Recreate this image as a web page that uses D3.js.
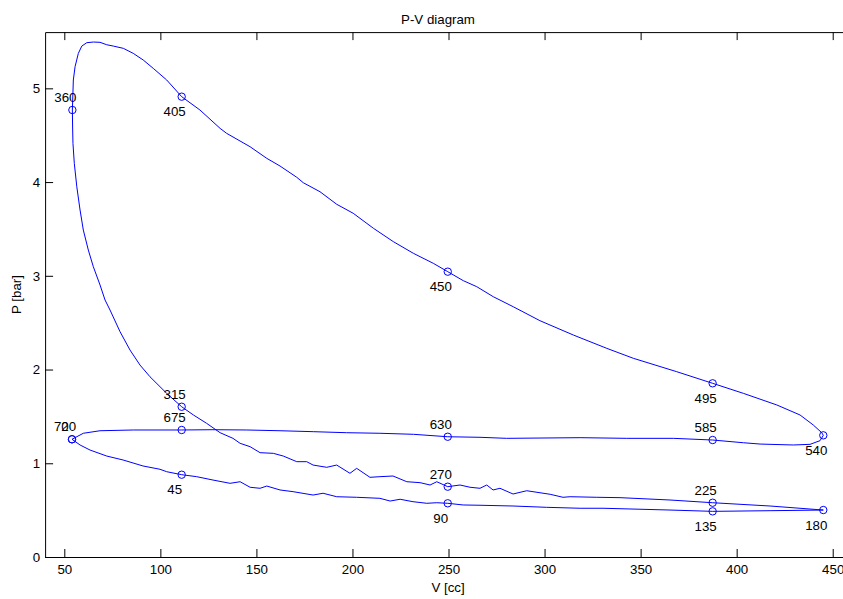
<!DOCTYPE html>
<html>
<head>
<meta charset="utf-8">
<script src="https://cdn.jsdelivr.net/npm/d3@7"></script>
<style>
  html, body { margin: 0; padding: 0; background: #fff; }
  svg { display: block; font-family: "Liberation Sans", Arial, Helvetica, sans-serif; }
</style>
</head>
<body>
<svg id="chart" width="843" height="599"></svg>
<script>
// Cylinder volume [cc] over the full 720° cycle: intake, compression, expansion, exhaust
const intakeV = [54.0, 58.2, 63.4, 72.1, 80.6, 91.0, 99.8, 103.3, 111.1, 118.9, 127.4, 136.3, 141.5, 146.7, 151.9, 155.4, 162.3, 169.1, 179.5, 184.7, 191.8, 202.2, 214.3, 219.6, 224.8, 231.5, 238.7, 243.9, 249.6, 257.6, 266.4, 283.6, 301.1, 318.5, 330.4, 365.3, 387.5, 417.4, 445.1];
const intakeP = [1.256, 1.195, 1.141, 1.077, 1.035, 0.971, 0.936, 0.910, 0.878, 0.857, 0.821, 0.786, 0.803, 0.744, 0.733, 0.757, 0.715, 0.697, 0.661, 0.680, 0.643, 0.637, 0.626, 0.597, 0.616, 0.590, 0.573, 0.579, 0.573, 0.555, 0.552, 0.544, 0.530, 0.520, 0.520, 0.501, 0.487, 0.494, 0.501];

const compressionV = [417.4, 387.5, 365.3, 339.3, 327.2, 313.3, 309.6, 302.9, 290.7, 283.6, 276.8, 273.2, 269.9, 266.4, 261.2, 256.0, 249.6, 243.9, 240.4, 235.2, 228.3, 221.1, 214.3, 209.1, 202.2, 198.7, 191.8, 186.6, 179.5, 176.2, 171.0, 164.0, 158.8, 151.9, 146.7, 141.5, 137.8, 131.1, 124.1, 117.2, 111.1, 103.3, 94.6, 89.4, 84.2, 79.0, 73.8, 71.2, 68.6, 65.1, 62.5, 59.9, 58.2, 56.5, 55.2, 54.5, 54.3, 54.2];
const compressionP = [0.544, 0.579, 0.608, 0.633, 0.637, 0.643, 0.637, 0.669, 0.707, 0.672, 0.733, 0.715, 0.768, 0.733, 0.744, 0.768, 0.750, 0.803, 0.768, 0.793, 0.803, 0.864, 0.857, 0.850, 0.946, 0.893, 0.981, 0.957, 0.981, 1.017, 1.017, 1.077, 1.106, 1.113, 1.177, 1.213, 1.266, 1.326, 1.426, 1.515, 1.603, 1.746, 1.923, 2.048, 2.208, 2.404, 2.635, 2.742, 2.902, 3.097, 3.275, 3.488, 3.702, 3.950, 4.200, 4.413, 4.609, 4.769];

const expansionV = [54.7, 55.6, 57.3, 59.1, 61.7, 65.1, 68.6, 72.1, 75.5, 80.7, 85.9, 91.1, 96.3, 103.3, 111.1, 120.6, 131.1, 134.5, 146.7, 155.4, 162.3, 171.0, 174.4, 183.1, 191.8, 200.4, 210.9, 221.3, 231.7, 242.1, 249.6, 257.7, 264.7, 273.3, 283.7, 297.6, 315.0, 332.4, 346.2, 368.8, 387.5, 403.5, 420.9, 433.0, 439.9, 444.3, 445.1];
const expansionP = [5.089, 5.231, 5.373, 5.451, 5.487, 5.494, 5.491, 5.465, 5.451, 5.427, 5.373, 5.302, 5.213, 5.089, 4.911, 4.769, 4.573, 4.520, 4.377, 4.253, 4.171, 4.051, 3.993, 3.897, 3.763, 3.667, 3.507, 3.364, 3.240, 3.133, 3.044, 2.948, 2.884, 2.777, 2.670, 2.521, 2.368, 2.226, 2.120, 1.977, 1.853, 1.746, 1.622, 1.515, 1.408, 1.326, 1.298];

const exhaustV = [443.4, 438.2, 429.5, 412.2, 403.5, 387.5, 367.0, 342.8, 318.5, 280.3, 266.4, 249.6, 231.7, 214.3, 197.0, 179.6, 162.3, 145.0, 127.4, 111.1, 85.9, 68.6, 59.9, 54.0];
const exhaustP = [1.241, 1.202, 1.195, 1.205, 1.219, 1.248, 1.266, 1.266, 1.273, 1.266, 1.277, 1.283, 1.309, 1.320, 1.326, 1.337, 1.347, 1.355, 1.358, 1.355, 1.355, 1.347, 1.320, 1.256];

// Crank-angle markers every 45°
const markAngle = [0, 45, 90, 135, 180, 225, 270, 315, 360, 405, 450, 495, 540, 585, 630, 675, 720];
const markV = [54.0, 111.1, 249.6, 387.5, 445.1, 387.5, 249.6, 111.1, 54.2, 111.1, 249.6, 387.5, 445.1, 387.5, 249.6, 111.1, 54.0];
const markP = [1.256, 0.878, 0.573, 0.487, 0.501, 0.579, 0.750, 1.603, 4.769, 4.911, 3.044, 1.853, 1.298, 1.248, 1.283, 1.355, 1.256];
const labelAbove = [true, false, false, false, false, true, true, true, true, false, false, false, false, true, true, true, true];

const xTicks = [50, 100, 150, 200, 250, 300, 350, 400, 450];
const yTicks = [0, 1, 2, 3, 4, 5];

const titleText = "P-V diagram";
const xLabelText = "V [cc]";
const yLabelText = "P [bar]";

// ---- layout ----
const svg = d3.select("#chart");
const plotLeft = 45.1, plotTop = 32.1, plotBottom = 557;
const x = d3.scaleLinear().domain([40, 460]).range([plotLeft, plotLeft + 420 * 1.921]);
const y = d3.scaleLinear().domain([0, 5.6]).range([plotBottom, plotTop]);
const plotRight = x.range()[1];
const blue = "#0000ff";
const fontSize = 13.3;
const intFmt = d3.format("d");

const cycle = d3.zip(
  [].concat(intakeV, compressionV, expansionV, exhaustV),
  [].concat(intakeP, compressionP, expansionP, exhaustP)
);

// ---- axes (box with inward ticks) ----
function styleAxis(g) {
  g.selectAll("path.domain").attr("stroke", "#000").attr("stroke-width", 1);
  g.selectAll(".tick line").attr("stroke", "#000").attr("stroke-width", 1);
  g.selectAll(".tick text").attr("fill", "#000").attr("font-size", fontSize)
    .attr("font-family", "'Liberation Sans', Arial, sans-serif");
}

svg.append("g").attr("transform", `translate(0,${plotBottom})`)
  .call(d3.axisBottom(x).tickValues(xTicks).tickFormat(intFmt).tickSizeInner(-8).tickSizeOuter(0).tickPadding(8))
  .call(styleAxis);
svg.append("g").attr("transform", `translate(0,${plotTop})`)
  .call(d3.axisTop(x).tickValues(xTicks).tickSizeInner(-8).tickSizeOuter(0).tickFormat(""))
  .call(styleAxis);
svg.append("g").attr("transform", `translate(${plotLeft},0)`)
  .call(d3.axisLeft(y).tickValues(yTicks).tickFormat(intFmt).tickSizeInner(-8).tickSizeOuter(0).tickPadding(5))
  .call(styleAxis);
svg.append("g").attr("transform", `translate(${plotRight},0)`)
  .call(d3.axisRight(y).tickValues(yTicks).tickSizeInner(-8).tickSizeOuter(0).tickFormat(""))
  .call(styleAxis);

// ---- cycle trace ----
svg.append("path")
  .datum(cycle)
  .attr("fill", "none")
  .attr("stroke", blue)
  .attr("stroke-width", 1)
  .attr("d", d3.line().x(d => x(d[0])).y(d => y(d[1])));

// ---- crank-angle markers and labels ----
const marks = markAngle.map((a, i) => ({ a, v: markV[i], p: markP[i], above: labelAbove[i] }));

svg.append("g").selectAll("circle").data(marks).join("circle")
  .attr("cx", d => x(d.v)).attr("cy", d => y(d.p)).attr("r", 3.7)
  .attr("fill", "none").attr("stroke", blue).attr("stroke-width", 1);

svg.append("g").selectAll("text").data(marks).join("text")
  .attr("x", d => x(d.v) - 7)
  .attr("y", d => y(d.p) + (d.above ? -8 : 19.5))
  .attr("text-anchor", "middle")
  .attr("font-size", fontSize)
  .attr("fill", "#000")
  .text(d => d.a);

// ---- titles ----
svg.append("text").attr("x", 438).attr("y", 24).attr("text-anchor", "middle")
  .attr("font-size", fontSize).attr("fill", "#000").text(titleText);
svg.append("text").attr("x", 448).attr("y", 592).attr("text-anchor", "middle")
  .attr("font-size", fontSize).attr("fill", "#000").text(xLabelText);
svg.append("text").attr("transform", `translate(21,${(plotTop + plotBottom) / 2}) rotate(-90)`)
  .attr("text-anchor", "middle").attr("font-size", fontSize).attr("fill", "#000").text(yLabelText);
</script>
</body>
</html>
